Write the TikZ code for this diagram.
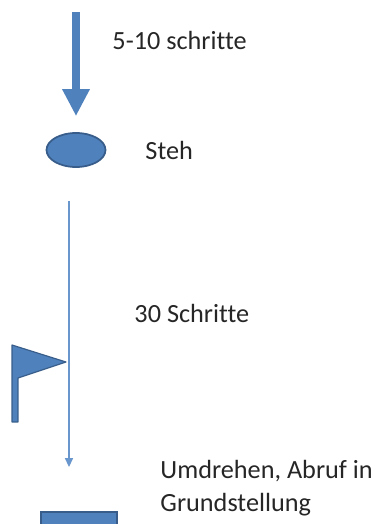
\documentclass[tikz,border=0pt]{standalone}
\usepackage{fontspec}
\setmainfont{Carlito}[Ligatures=NoCommon]
\usetikzlibrary{positioning,shapes,arrows.meta}
\definecolor{officeblue}{HTML}{4F81BD}
\definecolor{officeedge}{HTML}{385D8A}
\definecolor{thinblue}{HTML}{6A96CE}

\begin{document}
\begin{tikzpicture}[thick,
                       shape node/.style={fill=officeblue,draw=officeedge,line width=1.5pt},
                       label node/.style={anchor=west,inner sep=0pt,text=black!85,
                                          font=\fontsize{22.4}{28.1}\selectfont,align=left},
                       big arrow/.style={officeblue,line width=6.8pt,
                                         -{Triangle[width=22pt,length=23pt]}},
                       thin arrow/.style={thinblue,line width=1.2pt,
                                          -{Triangle[width=6.8pt,length=7.5pt]}}
                      ] 
   \useasboundingbox (0,0) rectangle (11.46,15.72);
   \coordinate (start) at (2.28,15.36);
   \node[shape node,ellipse,minimum width=1.77cm,minimum height=1.02cm,inner sep=0pt] (steh) at (2.28,11.22) {};
   \coordinate (walk) at (2.07,9.69);
   \coordinate (turn) at (2.07,1.71);
   \node[label node] (short) at (3.36,14.52) {5-10 schritte};
   \node[label node] (stehtext) at (4.35,11.22) {Steh};
   \node[label node] (long) at (4.02,6.33) {30 Schritte};
   \node[label node] (recall) at (4.80,1.065) {Umdrehen, Abruf in\\Grundstellung};
   % flag
   \filldraw[shape node,line width=1pt,line join=round]
     (0.36,5.37) -- (1.98,4.86) -- (0.54,4.38) -- (0.54,3.06) -- (0.36,3.06) -- cycle;
   % base
   \filldraw[shape node] (1.23,-0.3) rectangle (3.51,0.36);
   \draw[big arrow,shorten >=0.48cm] (start) -- (steh);
   \draw[thin arrow] (walk) -- (turn);
  \end{tikzpicture}
\end{document}
